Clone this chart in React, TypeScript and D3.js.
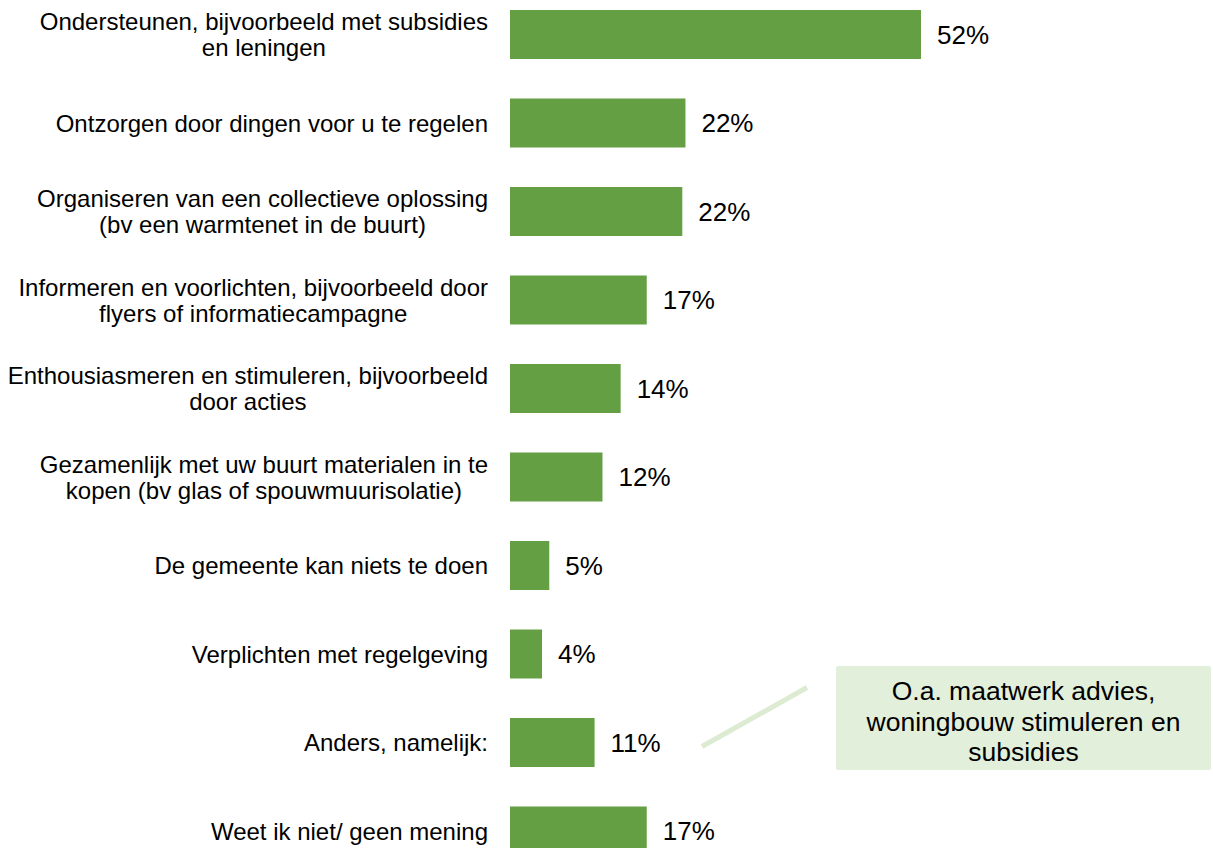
import React, { useRef, useEffect } from 'react';
import * as d3 from 'd3';

// categories (already split into lines as in the original slide)
const categories: string[][] = [
  ['Ondersteunen, bijvoorbeeld met subsidies', 'en leningen'],
  ['Ontzorgen door dingen voor u te regelen'],
  ['Organiseren van een collectieve oplossing', '(bv een warmtenet in de buurt)'],
  ['Informeren en voorlichten, bijvoorbeeld door', 'flyers of informatiecampagne'],
  ['Enthousiasmeren en stimuleren, bijvoorbeeld', 'door acties'],
  ['Gezamenlijk met uw buurt materialen in te', 'kopen (bv glas of spouwmuurisolatie)'],
  ['De gemeente kan niets te doen'],
  ['Verplichten met regelgeving'],
  ['Anders, namelijk:'],
  ['Weet ik niet/ geen mening'],
];

const values: number[] = [52.0, 22.2, 21.8, 17.3, 14.0, 11.7, 4.97, 4.05, 10.7, 17.3];
const valueLabels: string[] = ['52%', '22%', '22%', '17%', '14%', '12%', '5%', '4%', '11%', '17%'];

const calloutLines: string[] = ['O.a. maatwerk advies,', 'woningbouw stimuleren en', 'subsidies'];
const calloutRow = 8; // "Anders, namelijk:"

const W = 1213;
const H = 848;
const FONT = '"Liberation Sans", Arial, Helvetica, sans-serif';

export default function App() {
  const ref = useRef<SVGSVGElement | null>(null);

  useEffect(() => {
    if (!ref.current) return;
    const svg = d3.select(ref.current);
    svg.selectAll('*').remove();

    const x = d3.scaleLinear().domain([0, 52]).range([510, 921]);
    const y = d3
      .scaleBand<number>()
      .domain(d3.range(categories.length))
      .range([-9.75, 875.25])
      .paddingInner(0.4463)
      .paddingOuter(0.4463 / 2);

    svg
      .append('g')
      .selectAll('rect')
      .data(values)
      .join('rect')
      .attr('x', x(0))
      .attr('y', (_, i) => y(i)!)
      .attr('width', d => x(d) - x(0))
      .attr('height', y.bandwidth())
      .attr('fill', '#64a043');

    // value labels
    svg
      .append('g')
      .selectAll('text')
      .data(values)
      .join('text')
      .attr('x', d => x(d) + 16)
      .attr('y', (_, i) => y(i)! + y.bandwidth() / 2)
      .attr('dy', '0.36em')
      .attr('font-family', FONT)
      .attr('font-size', 26)
      .attr('fill', '#000')
      .text((_, i) => valueLabels[i]);

    // category labels: block right-aligned, lines centred on each other
    const labelRight = 488;
    const lineH = 26;
    const catG = svg.append('g');
    categories.forEach((lines, i) => {
      const cy = y(i)! + y.bandwidth() / 2;
      const t = catG
        .append('text')
        .attr('font-family', FONT)
        .attr('font-size', 24)
        .attr('fill', '#000')
        .attr('text-anchor', 'middle');
      const spans = lines.map((ln, j) =>
        t
          .append('tspan')
          .attr('y', cy + (j - (lines.length - 1) / 2) * lineH)
          .attr('dy', '0.36em')
          .text(ln)
      );
      const maxW = d3.max(spans, s => (s.node() as SVGTSpanElement).getComputedTextLength()) || 0;
      spans.forEach(s => s.attr('x', labelRight - maxW / 2));
    });

    // callout
    const cy = y(calloutRow)! + y.bandwidth() / 2;
    svg
      .append('line')
      .attr('x1', 702)
      .attr('y1', cy + 4)
      .attr('x2', 807)
      .attr('y2', cy - 55)
      .attr('stroke', '#dcebd2')
      .attr('stroke-width', 5);

    const box = { x: 836, y: 666, w: 375, h: 104 };
    svg
      .append('rect')
      .attr('x', box.x)
      .attr('y', box.y)
      .attr('width', box.w)
      .attr('height', box.h)
      .attr('rx', 2)
      .attr('fill', '#e2efda');

    svg
      .append('g')
      .selectAll('text')
      .data(calloutLines)
      .join('text')
      .attr('x', box.x + box.w / 2)
      .attr('y', (_, j) => 700 + j * 30.5)
      .attr('text-anchor', 'middle')
      .attr('font-family', FONT)
      .attr('font-size', 26.5)
      .attr('fill', '#000')
      .text(d => d);
  }, []);

  return (
    <svg
      ref={ref}
      width={W}
      height={H}
      style={{ position: 'absolute', left: 0, top: 0, background: '#fff' }}
    />
  );
}
